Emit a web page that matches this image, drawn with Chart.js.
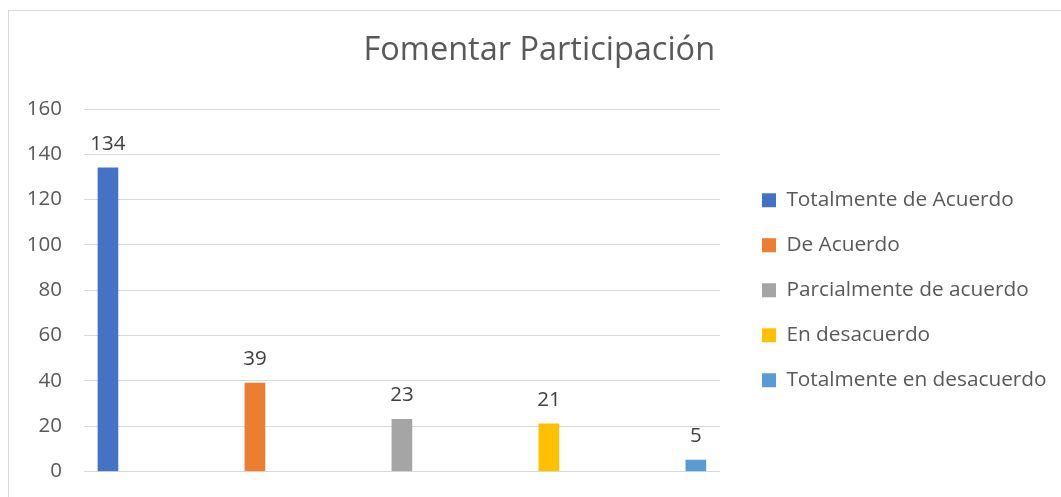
<!DOCTYPE html>
<html>
<head>
<meta charset="utf-8">
<script src="https://cdn.jsdelivr.net/npm/chart.js@4/dist/chart.umd.min.js"></script>
<style>
html,body{margin:0;padding:0;background:#fff;}
#wrap{position:absolute;left:0;top:0;width:1061px;height:497px;}
</style>
</head>
<body>
<div id="wrap"><canvas id="c" width="1061" height="497"></canvas></div>
<script>
const title = "Fomentar Participación";
const categories = ["Totalmente de Acuerdo", "De Acuerdo", "Parcialmente de acuerdo", "En desacuerdo", "Totalmente en desacuerdo"];
const values = [134, 39, 23, 21, 5];
const colors = ["#4472C4", "#ED7D31", "#A5A5A5", "#FFC000", "#5B9BD5"];
const yTicks = [0, 20, 40, 60, 80, 100, 120, 140, 160];

const FONT = "Open Sans";

function build() {
  const datasets = categories.map((name, i) => ({
    label: name,
    data: [{x: i, y: values[i]}],
    backgroundColor: colors[i],
    borderWidth: 0,
    barThickness: 20,
    grouped: false
  }));

  const framePlugin = {
    id: 'frame',
    beforeDraw(chart) {
      const ctx = chart.ctx;
      ctx.save();
      ctx.strokeStyle = '#D9D9D9';
      ctx.lineWidth = 1;
      ctx.strokeRect(8.5, 10.5, 3000, 3000);
      ctx.restore();
    }
  };

  const valueLabels = {
    id: 'valueLabels',
    afterDatasetsDraw(chart) {
      const ctx = chart.ctx;
      ctx.save();
      ctx.fillStyle = '#404040';
      ctx.font = '20.5px "' + FONT + '"';
      ctx.textAlign = 'center';
      ctx.textBaseline = 'alphabetic';
      chart.data.datasets.forEach((ds, i) => {
        const meta = chart.getDatasetMeta(i);
        meta.data.forEach((el, j) => {
          ctx.fillText(String(ds.data[j].y), el.x, el.y - 18);
        });
      });
      ctx.restore();
    }
  };

  new Chart(document.getElementById('c'), {
    type: 'bar',
    data: { datasets },
    options: {
      responsive: false,
      animation: false,
      events: [],
      layout: { padding: { left: 22, right: 4.4, top: 12, bottom: 25.5 } },
      scales: {
        x: {
          type: 'linear',
          offset: false,
          min: -0.163,
          max: 4.163,
          display: false
        },
        y: {
          min: 0,
          max: 160,
          afterBuildTicks: s => { s.ticks = yTicks.map(v => ({value: v})); },
          afterFit: s => { s.width = 62; },
          grid: { color: '#D9D9D9', lineWidth: 1, drawTicks: true, tickLength: 19, tickColor: 'rgba(0,0,0,0)' },
          border: { display: false },
          ticks: { color: '#595959', font: { family: FONT, size: 20.5 }, padding: 3 }
        },
        y2: {
          position: 'right',
          display: true,
          afterFit: s => { s.width = 18; },
          grid: { display: false, drawTicks: false },
          border: { display: false },
          ticks: { display: false }
        }
      },
      plugins: {
        title: {
          display: true,
          text: title,
          color: '#595959',
          font: { family: FONT, size: 32.5, weight: 'normal', lineHeight: 1.2 },
          padding: { top: 18.9, bottom: 39.1 }
        },
        legend: {
          position: 'right',
          fullSize: false,
          maxWidth: 400,
          labels: {
            color: '#595959',
            font: { family: FONT, size: 20.8 },
            boxWidth: 14,
            boxHeight: 14,
            padding: 24.2
          }
        },
        tooltip: { enabled: false }
      }
    },
    plugins: [framePlugin, valueLabels]
  });
}

Promise.all([
  document.fonts.load('20.5px "Open Sans"'),
  document.fonts.load('32.5px "Open Sans"'),
  document.fonts.load('20.8px "Open Sans"')
]).then(build, build);
</script>
</body>
</html>
